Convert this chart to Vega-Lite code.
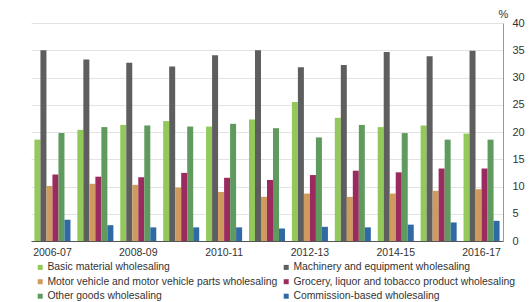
{
  "$schema": "https://vega.github.io/schema/vega-lite/v6.json",
  "width": 472,
  "height": 218,
  "autosize": {"type": "none"},
  "padding": {"left": 31, "top": 23, "right": 26, "bottom": 61},
  "background": "white",
  "config": {
    "font": "Liberation Sans",
    "view": {"stroke": null}
  },
  "data": {
    "values": [
      {"year": "2006-07", "series": "Basic material wholesaling", "value": 18.6},
      {"year": "2006-07", "series": "Machinery and equipment wholesaling", "value": 35.0},
      {"year": "2006-07", "series": "Motor vehicle and motor vehicle parts wholesaling", "value": 10.1},
      {"year": "2006-07", "series": "Grocery, liquor and tobacco product wholesaling", "value": 12.2},
      {"year": "2006-07", "series": "Other goods wholesaling", "value": 19.8},
      {"year": "2006-07", "series": "Commission-based wholesaling", "value": 3.9},
      {"year": "2007-08", "series": "Basic material wholesaling", "value": 20.4},
      {"year": "2007-08", "series": "Machinery and equipment wholesaling", "value": 33.3},
      {"year": "2007-08", "series": "Motor vehicle and motor vehicle parts wholesaling", "value": 10.5},
      {"year": "2007-08", "series": "Grocery, liquor and tobacco product wholesaling", "value": 11.8},
      {"year": "2007-08", "series": "Other goods wholesaling", "value": 20.9},
      {"year": "2007-08", "series": "Commission-based wholesaling", "value": 2.9},
      {"year": "2008-09", "series": "Basic material wholesaling", "value": 21.3},
      {"year": "2008-09", "series": "Machinery and equipment wholesaling", "value": 32.7},
      {"year": "2008-09", "series": "Motor vehicle and motor vehicle parts wholesaling", "value": 10.3},
      {"year": "2008-09", "series": "Grocery, liquor and tobacco product wholesaling", "value": 11.7},
      {"year": "2008-09", "series": "Other goods wholesaling", "value": 21.2},
      {"year": "2008-09", "series": "Commission-based wholesaling", "value": 2.5},
      {"year": "2009-10", "series": "Basic material wholesaling", "value": 22.0},
      {"year": "2009-10", "series": "Machinery and equipment wholesaling", "value": 32.0},
      {"year": "2009-10", "series": "Motor vehicle and motor vehicle parts wholesaling", "value": 9.8},
      {"year": "2009-10", "series": "Grocery, liquor and tobacco product wholesaling", "value": 12.5},
      {"year": "2009-10", "series": "Other goods wholesaling", "value": 21.0},
      {"year": "2009-10", "series": "Commission-based wholesaling", "value": 2.5},
      {"year": "2010-11", "series": "Basic material wholesaling", "value": 21.0},
      {"year": "2010-11", "series": "Machinery and equipment wholesaling", "value": 34.1},
      {"year": "2010-11", "series": "Motor vehicle and motor vehicle parts wholesaling", "value": 9.0},
      {"year": "2010-11", "series": "Grocery, liquor and tobacco product wholesaling", "value": 11.6},
      {"year": "2010-11", "series": "Other goods wholesaling", "value": 21.5},
      {"year": "2010-11", "series": "Commission-based wholesaling", "value": 2.5},
      {"year": "2011-12", "series": "Basic material wholesaling", "value": 22.3},
      {"year": "2011-12", "series": "Machinery and equipment wholesaling", "value": 35.0},
      {"year": "2011-12", "series": "Motor vehicle and motor vehicle parts wholesaling", "value": 8.1},
      {"year": "2011-12", "series": "Grocery, liquor and tobacco product wholesaling", "value": 11.2},
      {"year": "2011-12", "series": "Other goods wholesaling", "value": 20.7},
      {"year": "2011-12", "series": "Commission-based wholesaling", "value": 2.3},
      {"year": "2012-13", "series": "Basic material wholesaling", "value": 25.5},
      {"year": "2012-13", "series": "Machinery and equipment wholesaling", "value": 31.9},
      {"year": "2012-13", "series": "Motor vehicle and motor vehicle parts wholesaling", "value": 8.7},
      {"year": "2012-13", "series": "Grocery, liquor and tobacco product wholesaling", "value": 12.1},
      {"year": "2012-13", "series": "Other goods wholesaling", "value": 19.0},
      {"year": "2012-13", "series": "Commission-based wholesaling", "value": 2.6},
      {"year": "2013-14", "series": "Basic material wholesaling", "value": 22.6},
      {"year": "2013-14", "series": "Machinery and equipment wholesaling", "value": 32.3},
      {"year": "2013-14", "series": "Motor vehicle and motor vehicle parts wholesaling", "value": 8.1},
      {"year": "2013-14", "series": "Grocery, liquor and tobacco product wholesaling", "value": 12.9},
      {"year": "2013-14", "series": "Other goods wholesaling", "value": 21.3},
      {"year": "2013-14", "series": "Commission-based wholesaling", "value": 2.5},
      {"year": "2014-15", "series": "Basic material wholesaling", "value": 20.9},
      {"year": "2014-15", "series": "Machinery and equipment wholesaling", "value": 34.7},
      {"year": "2014-15", "series": "Motor vehicle and motor vehicle parts wholesaling", "value": 8.7},
      {"year": "2014-15", "series": "Grocery, liquor and tobacco product wholesaling", "value": 12.6},
      {"year": "2014-15", "series": "Other goods wholesaling", "value": 19.8},
      {"year": "2014-15", "series": "Commission-based wholesaling", "value": 3.0},
      {"year": "2015-16", "series": "Basic material wholesaling", "value": 21.2},
      {"year": "2015-16", "series": "Machinery and equipment wholesaling", "value": 33.9},
      {"year": "2015-16", "series": "Motor vehicle and motor vehicle parts wholesaling", "value": 9.2},
      {"year": "2015-16", "series": "Grocery, liquor and tobacco product wholesaling", "value": 13.3},
      {"year": "2015-16", "series": "Other goods wholesaling", "value": 18.6},
      {"year": "2015-16", "series": "Commission-based wholesaling", "value": 3.4},
      {"year": "2016-17", "series": "Basic material wholesaling", "value": 19.7},
      {"year": "2016-17", "series": "Machinery and equipment wholesaling", "value": 34.9},
      {"year": "2016-17", "series": "Motor vehicle and motor vehicle parts wholesaling", "value": 9.5},
      {"year": "2016-17", "series": "Grocery, liquor and tobacco product wholesaling", "value": 13.3},
      {"year": "2016-17", "series": "Other goods wholesaling", "value": 18.6},
      {"year": "2016-17", "series": "Commission-based wholesaling", "value": 3.7}
    ]
  },
  "mark": {"type": "bar"},
  "encoding": {
    "x": {
      "field": "year",
      "type": "nominal",
      "sort": null,
      "scale": {"paddingInner": 0.16, "paddingOuter": 0.08},
      "axis": {
        "title": null,
        "labelAngle": 0,
        "ticks": false,
        "labelPadding": 6,
        "labelFontSize": 10.5,
        "labelColor": "#333333",
        "domainColor": "#555555",
        "values": ["2006-07", "2008-09", "2010-11", "2012-13", "2014-15", "2016-17"]
      }
    },
    "xOffset": {
      "field": "series",
      "type": "nominal",
      "sort": [
        "Basic material wholesaling",
        "Machinery and equipment wholesaling",
        "Motor vehicle and motor vehicle parts wholesaling",
        "Grocery, liquor and tobacco product wholesaling",
        "Other goods wholesaling",
        "Commission-based wholesaling"
      ],
      "scale": {"paddingInner": 0, "paddingOuter": 0}
    },
    "y": {
      "field": "value",
      "type": "quantitative",
      "scale": {"domain": [0, 40]},
      "axis": {
        "orient": "right",
        "title": "%",
        "titleAngle": 0,
        "titleX": 0,
        "titleY": -6,
        "titleAlign": "center",
        "titleBaseline": "alphabetic",
        "titleFontSize": 11,
        "titleFontWeight": "normal",
        "titleColor": "#333333",
        "values": [0, 5, 10, 15, 20, 25, 30, 35, 40],
        "ticks": false,
        "labelPadding": 9,
        "labelFontSize": 11,
        "labelColor": "#333333",
        "domainColor": "#999999",
        "gridColor": "#e3e3e3"
      }
    },
    "color": {
      "field": "series",
      "type": "nominal",
      "scale": {
        "domain": [
          "Basic material wholesaling",
          "Machinery and equipment wholesaling",
          "Motor vehicle and motor vehicle parts wholesaling",
          "Grocery, liquor and tobacco product wholesaling",
          "Other goods wholesaling",
          "Commission-based wholesaling"
        ],
        "range": ["#93c95b", "#5e5e5e", "#cf9a5e", "#9b2a5e", "#5f9b5f", "#2f6aa5"]
      },
      "legend": {
        "title": null,
        "orient": "none",
        "legendX": 4,
        "legendY": 239,
        "direction": "horizontal",
        "columns": 2,
        "columnPadding": 3,
        "rowPadding": 3.5,
        "symbolType": "square",
        "symbolSize": 25,
        "symbolOffset": 0,
        "labelOffset": 2,
        "labelLimit": 0,
        "labelFontSize": 10.4,
        "labelColor": "#333333",
        "padding": 0
      }
    }
  }
}
